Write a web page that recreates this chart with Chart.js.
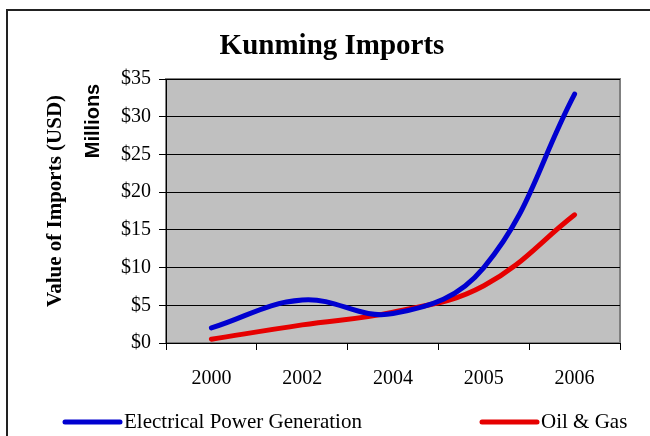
<!DOCTYPE html>
<html>
<head>
<meta charset="utf-8">
<script src="https://cdn.jsdelivr.net/npm/chart.js@4"></script>
<style>
  html, body { margin: 0; padding: 0; background: #fff; }
  #wrap { width: 650px; height: 436px; }
</style>
</head>
<body>
<div id="wrap"><canvas id="importsChart" width="650" height="436"></canvas></div>
<script>
// Данные графика
const years = ['2000', '2002', '2004', '2005', '2006'];
const powerGeneration = [2, 5.7, 3.9, 10, 33];
const oilGas = [0.5, 2.4, 4.1, 7.6, 17];
const yTicks = [0, 5, 10, 15, 20, 25, 30, 35];

const SERIF = '"Liberation Serif", "Times New Roman", serif';
const SANS = '"Liberation Sans", Arial, sans-serif';

// Серый фон области построения, рамки и подписи
const plotFrame = {
    id: 'plotFrame',
    beforeDraw(chart) {
        const a = chart.chartArea;
        const ctx = chart.ctx;
        ctx.save();
        ctx.fillStyle = '#fff';
        ctx.fillRect(0, 0, chart.width, chart.height);
        ctx.fillStyle = '#c0c0c0';
        ctx.fillRect(a.left, a.top, a.right - a.left, a.bottom - a.top);
        ctx.strokeStyle = '#808080';
        ctx.lineWidth = 2;
        ctx.strokeRect(a.left, a.top, a.right - a.left, a.bottom - a.top);
        // внешняя рамка диаграммы
        ctx.strokeStyle = '#222';
        ctx.lineWidth = 2;
        ctx.beginPath();
        ctx.moveTo(7, chart.height);
        ctx.lineTo(7, 10);
        ctx.lineTo(chart.width, 10);
        ctx.stroke();
        ctx.restore();
    },
    afterDraw(chart) {
        const ctx = chart.ctx;
        ctx.save();
        ctx.fillStyle = '#000';

        // Заголовок
        ctx.font = 'bold 29px ' + SERIF;
        ctx.textAlign = 'center';
        ctx.textBaseline = 'alphabetic';
        ctx.fillText('Kunming Imports', 332, 54);

        // Подписи оси Y
        ctx.textBaseline = 'middle';
        ctx.save();
        ctx.translate(56, 201);
        ctx.rotate(-Math.PI / 2);
        ctx.font = 'bold 21px ' + SERIF;
        ctx.fillText('Value of Imports (USD)', 0, 0);
        ctx.restore();

        ctx.save();
        ctx.translate(93, 121);
        ctx.rotate(-Math.PI / 2);
        ctx.font = 'bold 20px ' + SANS;
        ctx.fillText('Millions', 0, 0);
        ctx.restore();

        // Легенда
        const legendX = [65, 482];
        const legendY = 422;
        ctx.font = '21px ' + SERIF;
        ctx.textAlign = 'left';
        chart.data.datasets.forEach((ds, i) => {
            const x = legendX[i];
            ctx.strokeStyle = ds.borderColor;
            ctx.lineWidth = 5;
            ctx.lineCap = 'round';
            ctx.beginPath();
            ctx.moveTo(x, legendY);
            ctx.lineTo(x + 55, legendY);
            ctx.stroke();
            ctx.fillText(ds.label, x + 59, legendY);
        });
        ctx.restore();
    }
};

const ctx = document.getElementById('importsChart');

new Chart(ctx, {
    type: 'line',
    data: {
        labels: years,
        datasets: [
            {
                label: 'Electrical Power Generation',
                data: powerGeneration,
                borderColor: '#0000d0',
                borderWidth: 5,
                borderCapStyle: 'round',
                pointRadius: 0,
                tension: 0.4,
                fill: false
            },
            {
                label: 'Oil & Gas',
                data: oilGas,
                borderColor: '#e60000',
                borderWidth: 5,
                borderCapStyle: 'round',
                pointRadius: 0,
                tension: 0.4,
                fill: false
            }
        ]
    },
    options: {
        responsive: false,
        animation: false,
        layout: {
            padding: { top: 79, right: 30, bottom: 43, left: 0 }
        },
        scales: {
            x: {
                offset: true,
                grid: {
                    offset: true,
                    drawOnChartArea: false,
                    drawTicks: true,
                    tickLength: 7,
                    tickColor: '#000',
                    tickWidth: 1
                },
                border: { display: true, color: '#000', width: 1 },
                ticks: {
                    color: '#000',
                    padding: 17,
                    maxRotation: 0,
                    font: { family: SERIF, size: 20 }
                },
                afterFit(scale) { scale.height = 50; }
            },
            y: {
                min: 0,
                max: 35,
                afterBuildTicks(scale) {
                    scale.ticks = yTicks.map(v => ({ value: v }));
                },
                grid: {
                    color: '#000',
                    lineWidth: 1,
                    drawTicks: true,
                    tickLength: 7,
                    tickColor: '#000'
                },
                border: { display: true, color: '#000', width: 1 },
                ticks: {
                    color: '#000',
                    padding: 8,
                    font: { family: SERIF, size: 20 },
                    callback: value => '$' + value
                },
                afterFit(scale) { scale.width = 166; }
            }
        },
        plugins: {
            legend: { display: false },
            title: { display: false },
            tooltip: { enabled: false }
        }
    },
    plugins: [plotFrame]
});
</script>
</body>
</html>
